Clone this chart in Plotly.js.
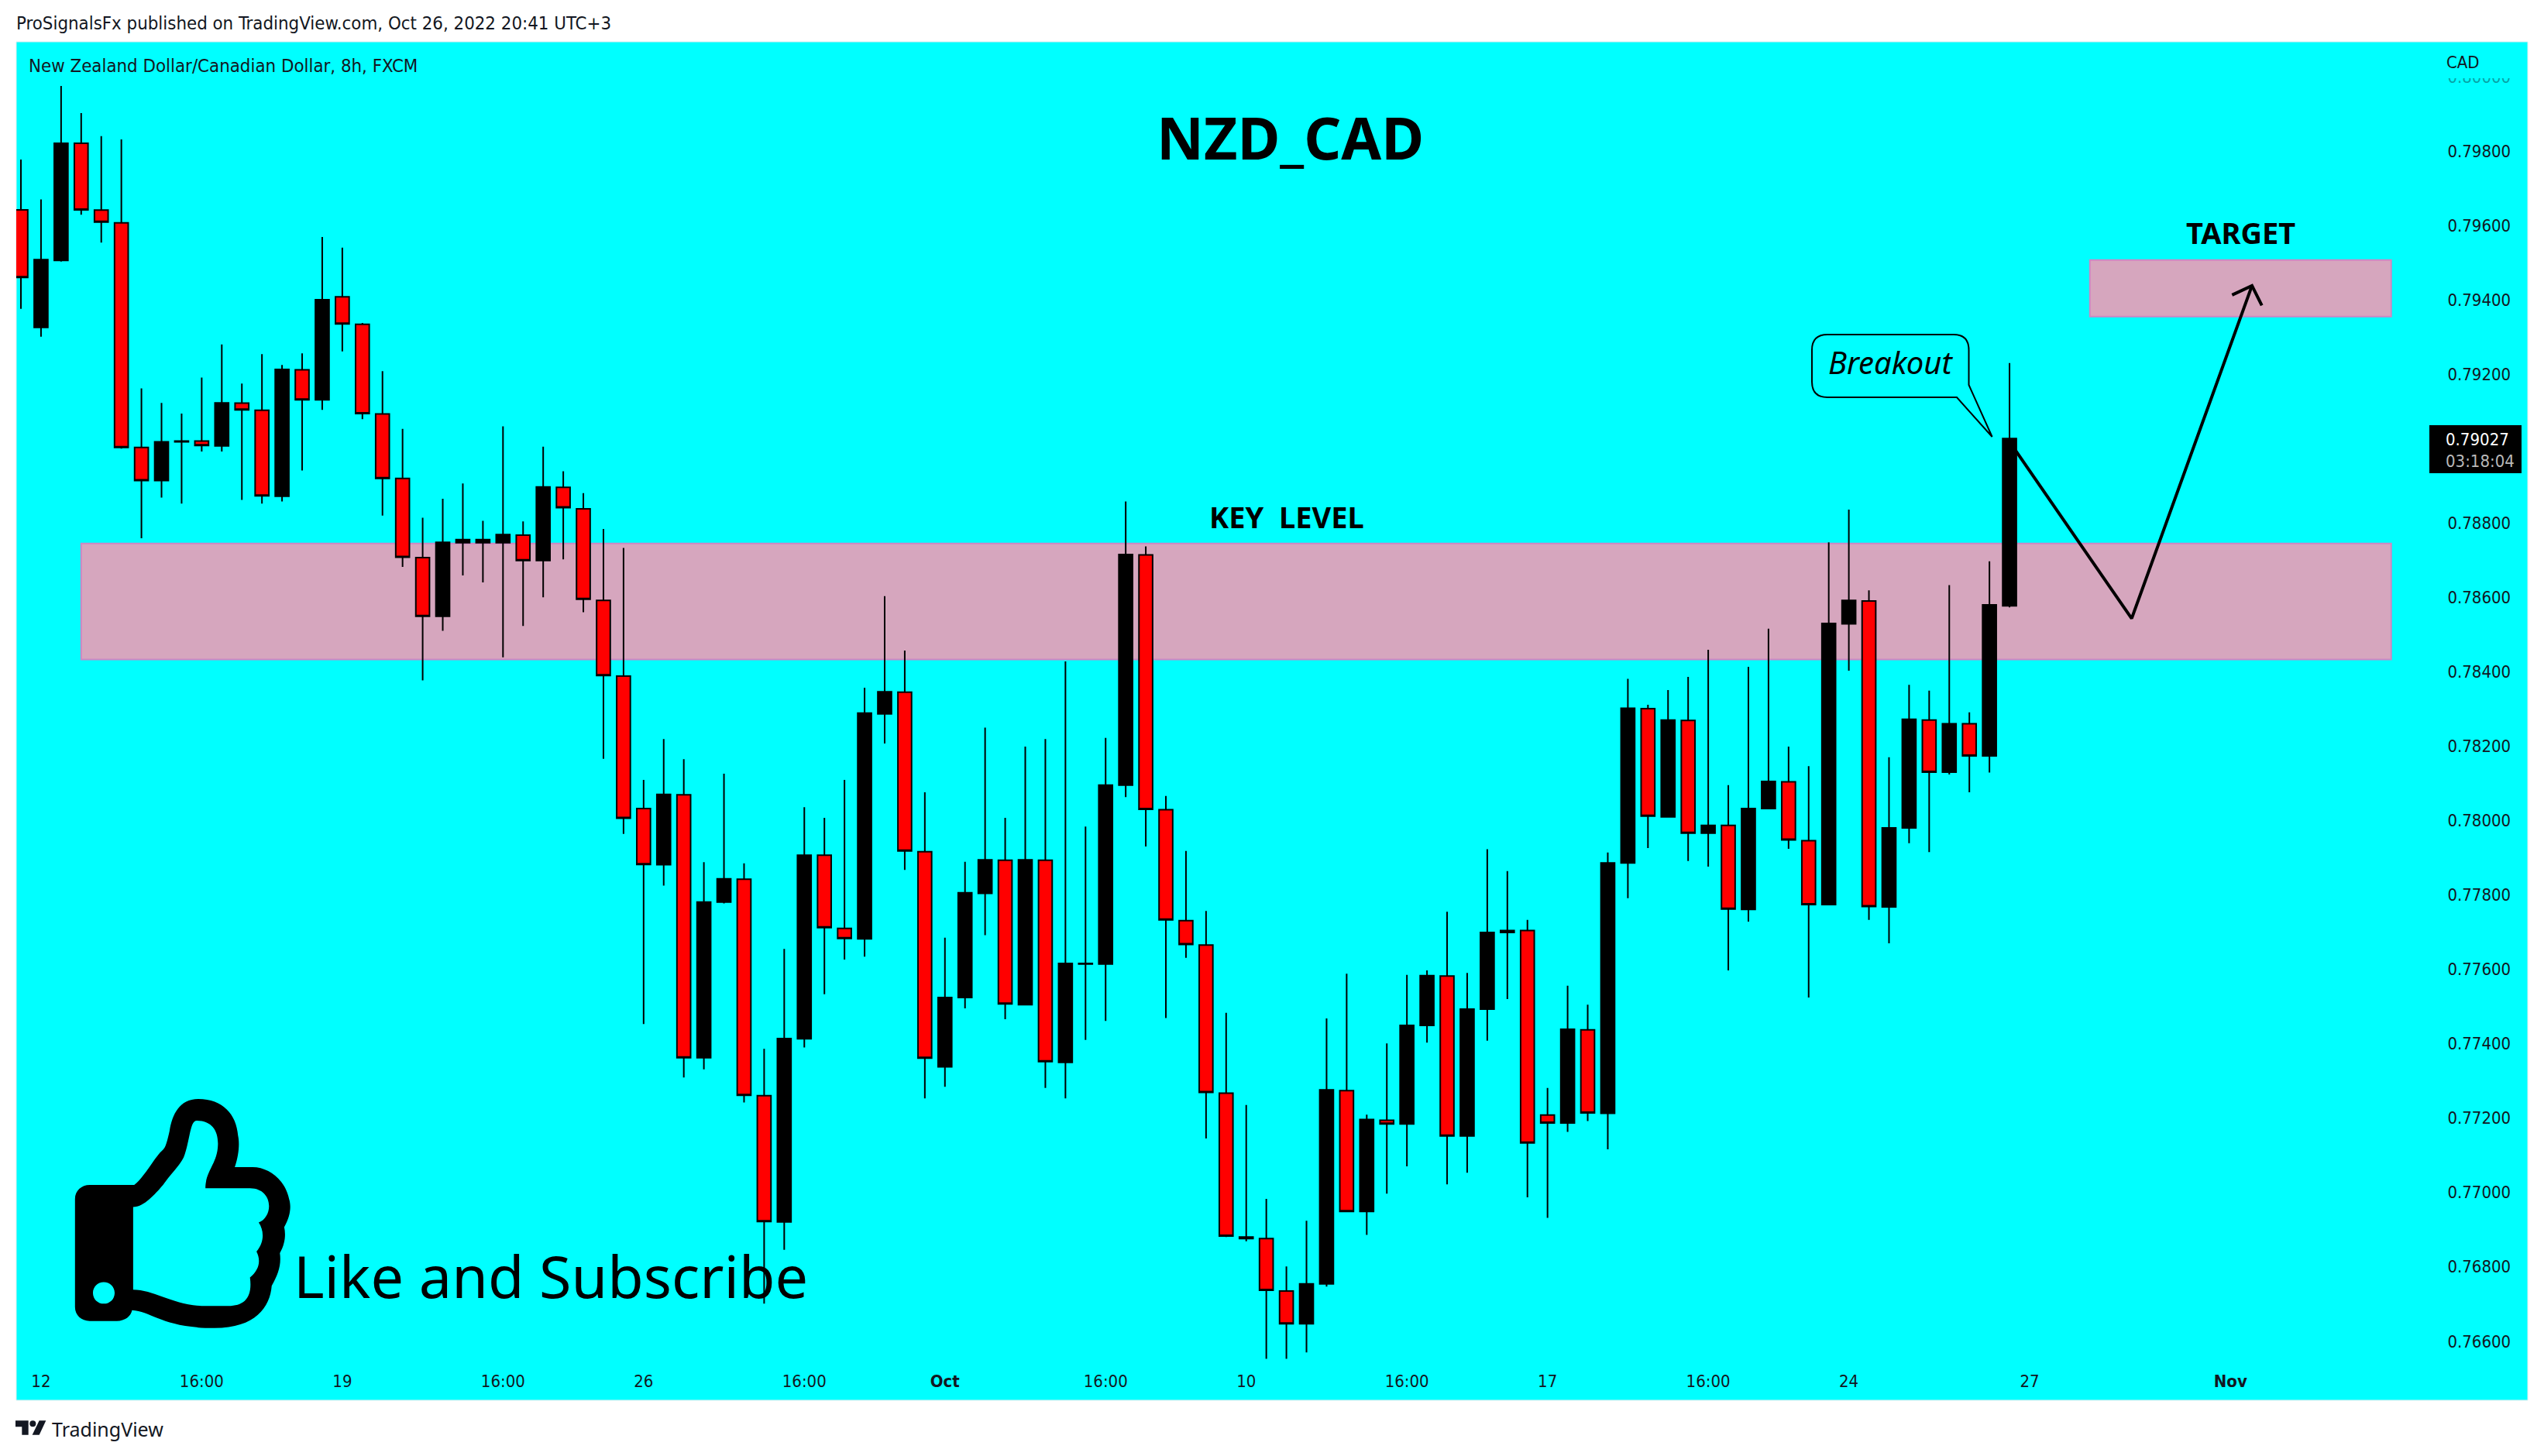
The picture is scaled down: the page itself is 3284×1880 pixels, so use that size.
<!DOCTYPE html>
<html><head><meta charset="utf-8">
<script src="https://cdn.plot.ly/plotly-3.0.1.min.js"></script>
<style>html,body{margin:0;padding:0;background:#fff}</style></head>
<body><div id="chart" style="width:3284px;height:1880px"></div>
<script>
const opens=[.79642,.79326,.79506,.79821,.79641,.79607,.79003,.78914,.79018,.79020,.79007,.79122,.79103,.78872,.79212,.79131,.79408,.79334,.79093,.78920,.78707,.78549,.78747,.78747,.78747,.78767,.78699,.78896,.78838,.78592,.78388,.78032,.77881,.78069,.77362,.77781,.77842,.77260,.76921,.77413,.77907,.77710,.77682,.78287,.78345,.77916,.77338,.77524,.77804,.77893,.77505,.77893,.77350,.77614,.77614,.78095,.78714,.78029,.77731,.77665,.77267,.76876,.76876,.76735,.76647,.76754,.77274,.76949,.77194,.77184,.77449,.77582,.77152,.77493,.77699,.77704,.77208,.77187,.77437,.77213,.77886,.78301,.78010,.78269,.77966,.77987,.77761,.78032,.78104,.77946,.77774,.78529,.78590,.77768,.77980,.78270,.78130,.78260,.78174,.78577];
const highs=[.79777,.79670,.79975,.79902,.79840,.79831,.79162,.79123,.79094,.79191,.79280,.79175,.79254,.79225,.79256,.79569,.79540,.79338,.79208,.79053,.78814,.78865,.78906,.78806,.79060,.78804,.79005,.78939,.78880,.78784,.78733,.78109,.78219,.78165,.77888,.78126,.77885,.77386,.77655,.78036,.78007,.78109,.78357,.78603,.78457,.78076,.77685,.77889,.78250,.78007,.78199,.78219,.78428,.77984,.78222,.78858,.78737,.78066,.77918,.77757,.77483,.77235,.76983,.76801,.76924,.77468,.77588,.77209,.77401,.77585,.77597,.77755,.77590,.77923,.77864,.77733,.77281,.77556,.77505,.77914,.78381,.78311,.78351,.78386,.78459,.78095,.78413,.78516,.78199,.78146,.78748,.78836,.78619,.78170,.78365,.78349,.78633,.78291,.78697,.79230];
const lows=[.79376,.79301,.79503,.79629,.79554,.79000,.78759,.78868,.78852,.78992,.78992,.78862,.78852,.78858,.78941,.79104,.79261,.79079,.78820,.78682,.78377,.78510,.78659,.78640,.78439,.78523,.78600,.78702,.78560,.78166,.77964,.77453,.77825,.77309,.77331,.77777,.77242,.76701,.76846,.77390,.77533,.77626,.77634,.78207,.77867,.77253,.77284,.77495,.77692,.77466,.77503,.77281,.77253,.77410,.77461,.78063,.77930,.77469,.77631,.77145,.76880,.76869,.76553,.76553,.76570,.76747,.76949,.76886,.76997,.77070,.77403,.77022,.77053,.77408,.77520,.76987,.76932,.77163,.77192,.77116,.77791,.77926,.78010,.77891,.77876,.77597,.77728,.78030,.77924,.77524,.77772,.78403,.77733,.77670,.77939,.77915,.78124,.78076,.78129,.78573];
const closes=[.79460,.79508,.79821,.79642,.79609,.79003,.78914,.79018,.79020,.79008,.79123,.79104,.78873,.79213,.79131,.79400,.79335,.79094,.78920,.78708,.78549,.78748,.78755,.78755,.78769,.78699,.78897,.78841,.78595,.78390,.78006,.77882,.78070,.77362,.77781,.77843,.77261,.76922,.77414,.77907,.77712,.77683,.78289,.78346,.77918,.77361,.77524,.77806,.77894,.77507,.77894,.77352,.77616,.77616,.78095,.78715,.78030,.77733,.77667,.77269,.76883,.76880,.76737,.76647,.76754,.77276,.76949,.77196,.77184,.77449,.77583,.77152,.77493,.77699,.77704,.77133,.77187,.77439,.77214,.77886,.78302,.78012,.78270,.77966,.77987,.77762,.78032,.78105,.77948,.77774,.78530,.78592,.77769,.77980,.78272,.78130,.78260,.78174,.78580,.79027];
const candleIndex=opens.map((_,i)=>i);

const xTickVals=[1,9,16,24,31,39,46,54,61,69,76,84,91,100,110];
const xTickText=['12','16:00','19','16:00','26','16:00','<b>Oct</b>','16:00','10','16:00','17','16:00','24','27','<b>Nov</b>'];
const yTickVals=[.766,.768,.770,.772,.774,.776,.778,.780,.782,.784,.786,.788,.792,.794,.796,.798,.800];
const yTickText=yTickVals.map(v=>v.toFixed(5));

const keyLevel=[.78433,.78745], keyLevelSpan=[3,118];
const targetZone=[.79355,.79507], targetSpan=[103,118];
const waveX=[99.3,105.08,111.07], waveY=[.78995,.78543,.79438];
const arrowX=[110.08,111.07,111.56], arrowY=[.79413,.79438,.79385];

// page-pixel helpers for the plot frame
const L=21,R=3150,T=54,B=1764;
const X=p=>(p-L)/(R-L), Y=p=>(B-p)/(B-T);
const pt=(x,y)=>X(x).toFixed(5)+','+Y(y).toFixed(5);
// thumb icon outlined on a grid of (x/1.4255, 930+y/1.65)
const Z=(x,y)=>pt(x/1.4255,930+y/1.65);
function curve(d){return d.map(s=>{
  if(s[0]==='M'||s[0]==='L')return s[0]+Z(s[1],s[2]);
  if(s[0]==='C')return 'C'+Z(s[1],s[2])+' '+Z(s[3],s[4])+' '+Z(s[5],s[6]);
  return 'Z';}).join(' ');}
const thumbOuter=[['M',165,990],['C',150,990,138,1002,138,1020],['L',138,1250],['C',138,1268,150,1280,165,1280],['L',215,1280],['C',230,1280,241,1270,243,1257],
['C',280,1260,300,1295,395,1295],['C',470,1295,497,1250,500,1205],['C',512,1180,518,1160,515,1135],['C',525,1115,526,1095,523,1080],['C',535,1055,536,1035,532,1020],
['C',525,980,495,952,465,952],['L',432,952],['C',440,925,441,900,438,885],['C',435,840,410,807,365,807],['C',330,807,317,840,312,875],['C',308,895,305,910,300,915],
['C',285,930,265,975,247,990],['Z']];
const thumbInner=[['M',245,1037],['C',265,1037,285,1010,300,990],['C',315,965,335,945,340,925],['C',350,890,350,853,362,853],['C',390,853,402,875,401,905],
['C',400,945,378,960,378,997],['L',460,997],['C',483,997,495,1015,495,1035],['C',495,1050,488,1065,476,1070],['C',485,1085,488,1110,472,1132],['C',480,1150,478,1170,460,1187],
['C',465,1230,450,1248,420,1248],['L',380,1248],['C',320,1248,285,1213,245,1213],['Z']];
const thumbDot=[['M',171,1220],['C',171,1207,180,1197,191,1197],['C',202,1197,211,1207,211,1220],['C',211,1233,202,1243,191,1243],['C',180,1243,171,1233,171,1220],['Z']];

const logoPart=(a)=>a.map((p,i)=>(i?'L':'M')+pt(10+p[0]/3,1815+p[1]/3)).join(' ')+' Z';
const logoT=[[30,58],[80,58],[80,113],[55,113],[55,82],[30,82]];
const logoSlash=[[122,58],[148,58],[122,113],[95,113]];
const callout='M'+pt(2359,432)+' L'+pt(2522,432)+' Q'+pt(2541.5,432)+' '+pt(2541.5,452)+' L'+pt(2541.5,497)+' L'+pt(2571.6,564)+' L'+pt(2526,513)+' L'+pt(2359,513)+' Q'+pt(2339,513)+' '+pt(2339,493)+' L'+pt(2339,452)+' Q'+pt(2339,432)+' '+pt(2359,432)+' Z';

const FONT="'DejaVu Sans Condensed','DejaVu Sans',sans-serif";
const INK='#131722';
const zoneFill='rgb(214,166,190)', zoneEdge='rgb(205,135,195)';

const traces=[
 {type:'candlestick',x:candleIndex,open:opens,high:highs,low:lows,close:closes,
  increasing:{line:{color:'#000',width:2},fillcolor:'#000'},
  decreasing:{line:{color:'#000',width:2},fillcolor:'#ff0000'},
  whiskerwidth:0,hoverinfo:'skip',showlegend:false},
 {type:'scatter',mode:'lines',x:waveX,y:waveY,line:{color:'#000',width:4},hoverinfo:'skip',showlegend:false},
 {type:'scatter',mode:'lines',x:arrowX,y:arrowY,line:{color:'#000',width:4},hoverinfo:'skip',showlegend:false}
];

const note=(text,px,py,size,o={})=>Object.assign({xref:'paper',yref:'paper',x:X(px),y:Y(py),text,showarrow:false,
  xanchor:'left',yanchor:'middle',font:{family:FONT,size,color:INK},borderpad:0},o);

const layout={
 width:3284,height:1880,paper_bgcolor:'#fff',plot_bgcolor:'rgba(0,0,0,0)',
 margin:{l:L,r:3284-R,t:T,b:1880-B,pad:0},showlegend:false,boxgap:0.32,boxgroupgap:0,
 xaxis:{type:'linear',range:[-0.2314,120.44],rangeslider:{visible:false},showgrid:false,zeroline:false,showline:false,
  tickmode:'array',tickvals:xTickVals,ticktext:xTickText,ticks:'outside',ticklen:0,tickcolor:'rgba(0,0,0,0)',
  tickfont:{family:FONT,size:22,color:INK},automargin:false},
 yaxis:{side:'right',range:[.76533,.800936],showgrid:false,zeroline:false,showline:false,
  tickmode:'array',tickvals:yTickVals,ticktext:yTickText,ticks:'outside',ticklen:4,tickcolor:'rgba(0,0,0,0)',
  tickfont:{family:FONT,size:22,color:INK},automargin:false},
 shapes:[
  {type:'rect',xref:'paper',yref:'paper',x0:X(21),x1:X(3263),y0:Y(1808),y1:Y(54),layer:'below',fillcolor:'#00ffff',line:{color:'#d8eef0',width:1}},
  {type:'rect',xref:'x',yref:'y',x0:keyLevelSpan[0],x1:keyLevelSpan[1],y0:keyLevel[0],y1:keyLevel[1],layer:'below',fillcolor:zoneFill,line:{color:zoneEdge,width:2}},
  {type:'rect',xref:'x',yref:'y',x0:targetSpan[0],x1:targetSpan[1],y0:targetZone[0],y1:targetZone[1],layer:'below',fillcolor:zoneFill,line:{color:zoneEdge,width:2}},
  {type:'rect',xref:'paper',yref:'paper',x0:X(3150),x1:X(3250),y0:Y(101),y1:Y(84),layer:'above',fillcolor:'#00ffff',line:{width:0}},
  {type:'rect',xref:'paper',yref:'paper',x0:X(3150),x1:X(3250),y0:Y(110),y1:Y(101),layer:'above',fillcolor:'rgba(0,255,255,0.6)',line:{width:0}},
  {type:'path',xref:'paper',yref:'paper',path:curve(thumbOuter)+' '+curve(thumbInner)+' '+curve(thumbDot),fillcolor:'#000',fillrule:'evenodd',line:{width:0},layer:'above'},
  {type:'path',xref:'paper',yref:'paper',path:callout,fillcolor:'rgba(0,0,0,0)',line:{color:'#000',width:2},layer:'above'},
  {type:'rect',xref:'paper',yref:'paper',x0:X(3136),x1:X(3255),y0:Y(611),y1:Y(549),layer:'above',fillcolor:'#000',line:{width:0}},
  {type:'path',xref:'paper',yref:'paper',path:logoPart(logoT),fillcolor:INK,line:{width:0}},
  {type:'path',xref:'paper',yref:'paper',path:logoPart(logoSlash),fillcolor:INK,line:{width:0}},
  {type:'circle',xref:'paper',yref:'paper',x0:X(10+85/3),x1:X(10+109/3),y0:Y(1815+82/3),y1:Y(1815+58/3),fillcolor:INK,line:{width:0}}
 ],
 annotations:[
  note('ProSignalsFx published on TradingView.com, Oct 26, 2022 20:41 UTC+3',20,30,23.8),
  note('New Zealand Dollar/Canadian Dollar, 8h, FXCM',36,85,23.8),
  note('CAD',3157,80,22),
  note('<b>NZD_CAD</b>',1665,177,75,{xanchor:'center',font:{family:"'Noto Sans',sans-serif",size:75,color:'#000'}}),
  note('<b>KEY&nbsp;&nbsp;LEVEL</b>',1661,667,38,{xanchor:'center',font:{family:"'Noto Sans',sans-serif",size:38,color:'#000'}}),
  note('<b>TARGET</b>',2892,300,38,{xanchor:'center',font:{family:"'Noto Sans',sans-serif",size:38,color:'#000'}}),
  note('Like and Subscribe',378,1646,75.6,{font:{family:"'Noto Sans',sans-serif",size:75.6,color:'#000'}}),
  note('<i>Breakout</i>',2440,468,40,{xanchor:'center',font:{family:"'Noto Sans',sans-serif",size:40,color:'#000'}}),
  note('0.79027',3156,567,22,{font:{family:FONT,size:22,color:'#fff'}}),
  note('03:18:04',3156,595,22,{font:{family:FONT,size:22,color:'#b8b8b8'}}),
  note('TradingView',66,1845,25,{font:{family:"'Noto Sans',sans-serif",size:25,color:INK}})
 ]
};
Plotly.newPlot('chart',traces,layout,{displayModeBar:false,staticPlot:true});
</script></body></html>
